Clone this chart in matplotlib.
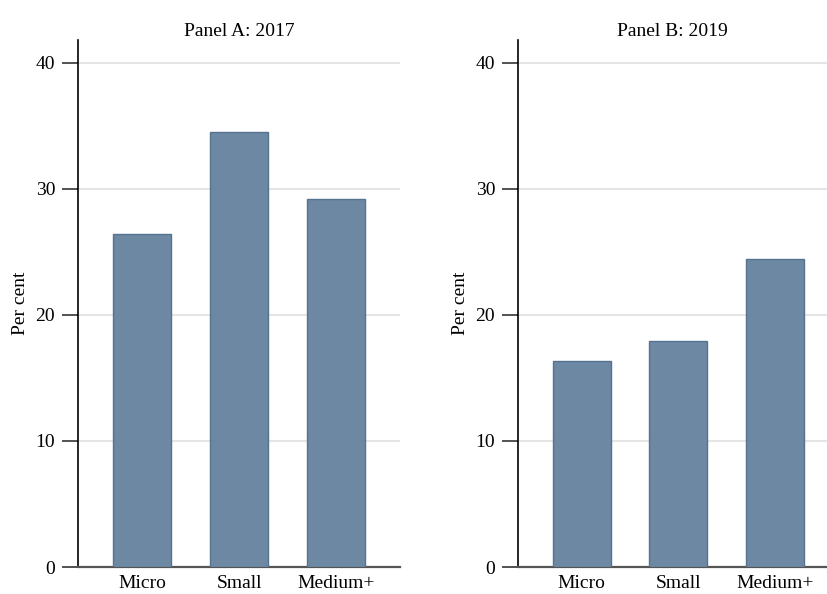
import matplotlib
matplotlib.use("Agg")
import matplotlib.pyplot as plt

categories = ["Micro", "Small", "Medium+"]
values_2017 = [26.4, 34.5, 29.2]
values_2019 = [16.3, 17.9, 24.4]
titles = ["Panel A: 2017", "Panel B: 2019"]
yticks = [0, 10, 20, 30, 40]

plt.rcParams['font.family'] = ['Liberation Serif', 'DejaVu Serif']

fig = plt.figure(figsize=(8.27, 5.94), dpi=100)
bottom = 1 - 567/594
height = (567 - 40)/594
ax1 = fig.add_axes([78/827, bottom, (400-78)/827, height])
ax2 = fig.add_axes([518/827, bottom, (827-518)/827, height])

bar_color = "#6d88a3"
edge_color = "#55738f"

for ax, vals, title, xmax in [(ax1, values_2017, titles[0], 2.66), (ax2, values_2019, titles[1], 2.54)]:
    x = range(len(categories))
    ax.bar(x, vals, width=0.6, color=bar_color, edgecolor=edge_color, linewidth=1.0, zorder=3)
    ax.set_xlim(-0.66, xmax)
    ax.set_ylim(0, 41.8)
    ax.set_yticks(yticks)
    ax.set_yticklabels([str(t) for t in yticks], fontsize=14)
    ax.set_xticks(list(x))
    ax.set_xticklabels(categories, fontsize=14)
    ax.tick_params(axis='x', length=0, pad=6)
    ax.tick_params(axis='y', length=11.5, width=1.3, color="#444444", pad=5)
    ax.grid(axis='y', color="#e5e5e5", linewidth=1.5, zorder=0)
    ax.set_axisbelow(True)
    for s in ["top", "right"]:
        ax.spines[s].set_visible(False)
    ax.spines["left"].set_color("black")
    ax.spines["left"].set_linewidth(1.2)
    ax.spines["bottom"].set_color("#555555")
    ax.spines["bottom"].set_linewidth(1.6)
    ax.set_ylabel("Per cent", fontsize=14, labelpad=5)
    ax.set_title(title, fontsize=14, pad=3)

fig.savefig("out.png", dpi=100, facecolor="white")
